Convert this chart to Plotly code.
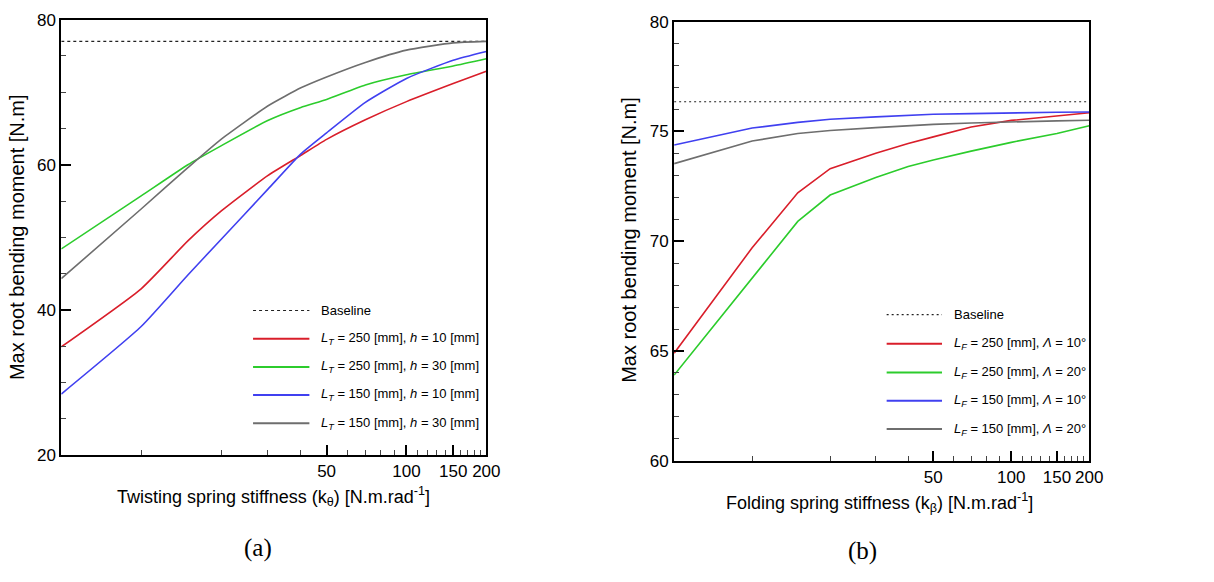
import plotly.graph_objects as go

W, H = 1214, 582

# ---------------- data ----------------
k_twist = [5, 10, 15, 20, 30, 40, 50, 70, 100, 150, 200]
a_lt250_h10 = [34.9, 42.9, 49.5, 53.6, 58.5, 61.3, 63.5, 66.2, 68.7, 71.2, 72.9]
a_lt250_h30 = [48.4, 55.7, 60.0, 62.6, 66.1, 67.9, 69.0, 71.0, 72.4, 73.6, 74.6]
a_lt150_h10 = [28.4, 37.7, 44.8, 49.7, 56.6, 61.5, 64.4, 68.6, 71.9, 74.4, 75.6]
a_lt150_h30 = [44.3, 53.9, 59.6, 63.5, 68.1, 70.6, 72.1, 74.1, 75.8, 76.8, 77.0]
a_baseline = 77.0

k_fold = [5, 10, 15, 20, 30, 40, 50, 70, 100, 150, 200]
b_lf250_l10 = [64.9, 69.7, 72.2, 73.3, 74.0, 74.45, 74.75, 75.2, 75.5, 75.72, 75.85]
b_lf250_l20 = [63.9, 68.3, 70.9, 72.1, 72.9, 73.4, 73.7, 74.1, 74.5, 74.9, 75.26]
b_lf150_l10 = [74.38, 75.15, 75.41, 75.55, 75.66, 75.73, 75.78, 75.81, 75.85, 75.87, 75.88]
b_lf150_l20 = [73.53, 74.56, 74.9, 75.04, 75.17, 75.26, 75.32, 75.38, 75.44, 75.48, 75.51]
b_baseline = 76.35

x_tickvals = [50, 100, 150, 200]
x_ticktext = ["50", "100", "150", "200"]
x_minor = [10, 20, 30, 40, 60, 70, 80, 90, 110, 120, 130, 140, 160, 170, 180, 190]

names_a = ["<i>L</i><sub><i>T</i></sub> = 250 [mm], <i>h</i> = 10 [mm]",
           "<i>L</i><sub><i>T</i></sub> = 250 [mm], <i>h</i> = 30 [mm]",
           "<i>L</i><sub><i>T</i></sub> = 150 [mm], <i>h</i> = 10 [mm]",
           "<i>L</i><sub><i>T</i></sub> = 150 [mm], <i>h</i> = 30 [mm]"]
names_b = ["<i>L</i><sub><i>F</i></sub> = 250 [mm], <i>Λ</i> = 10°",
           "<i>L</i><sub><i>F</i></sub> = 250 [mm], <i>Λ</i> = 20°",
           "<i>L</i><sub><i>F</i></sub> = 150 [mm], <i>Λ</i> = 10°",
           "<i>L</i><sub><i>F</i></sub> = 150 [mm], <i>Λ</i> = 20°"]

colors = ["#d91e2a", "#2ccc2c", "#4040f0", "#6e6e6e"]
SANS = "Liberation Sans, Arial, sans-serif"
SERIF = "Liberation Serif, Times New Roman, serif"

fig = go.Figure()

series_a = [a_lt250_h10, a_lt250_h30, a_lt150_h10, a_lt150_h30]
series_b = [b_lf250_l10, b_lf250_l20, b_lf150_l10, b_lf150_l20]

# baselines
fig.add_trace(go.Scatter(x=[k_twist[0], k_twist[-1]], y=[a_baseline, a_baseline], mode="lines",
                         line=dict(color="#222222", width=1.2, dash="3px,3px"),
                         xaxis="x", yaxis="y", showlegend=False, name="Baseline"))
fig.add_trace(go.Scatter(x=[k_fold[0], k_fold[-1]], y=[b_baseline, b_baseline], mode="lines",
                         line=dict(color="#222222", width=1.2, dash="2px,3px"),
                         xaxis="x2", yaxis="y2", showlegend=False, name="Baseline"))

for ys, c, n in zip(series_a, colors, names_a):
    fig.add_trace(go.Scatter(x=k_twist, y=ys, mode="lines", line=dict(color=c, width=1.6, shape="spline", smoothing=0.5),
                             xaxis="x", yaxis="y", showlegend=False, name=n))
for ys, c, n in zip(series_b, colors, names_b):
    fig.add_trace(go.Scatter(x=k_fold, y=ys, mode="lines", line=dict(color=c, width=1.6),
                             xaxis="x2", yaxis="y2", showlegend=False, name=n))

def px(x):
    return x / W

def py(y):
    return 1 - y / H

common_x = dict(type="log", range=[0.69897, 2.30103], tickmode="array", tickvals=x_tickvals, ticktext=x_ticktext,
                ticks="inside", ticklen=10, tickwidth=2, tickcolor="black", showgrid=False, zeroline=False,
                showline=True, linecolor="black", linewidth=2, mirror=True,
                tickfont=dict(family=SANS, size=17, color="black"),
                minor=dict(tickmode="array", tickvals=x_minor, ticks="inside", ticklen=5, tickwidth=1, tickcolor="#444", showgrid=False))
common_y = dict(ticks="inside", ticklen=10, tickwidth=2, tickcolor="black", showgrid=False, zeroline=False,
                showline=True, linecolor="black", linewidth=2, mirror=True,
                tickfont=dict(family=SANS, size=17, color="black"))

fig.update_layout(
    width=W, height=H, margin=dict(l=0, r=0, t=0, b=0),
    paper_bgcolor="white", plot_bgcolor="white", showlegend=False,
    xaxis=dict(domain=[px(62), px(492)], anchor="y", **common_x),
    yaxis=dict(domain=[py(461), py(11)], anchor="x", range=[20, 80], tickvals=[20, 40, 60, 80],
               minor=dict(dtick=5, ticks="inside", ticklen=5, tickwidth=1, tickcolor="#444", showgrid=False), **common_y),
    xaxis2=dict(domain=[px(682), px(1102)], anchor="y2", **common_x),
    yaxis2=dict(domain=[py(467), py(13)], anchor="x2", range=[60, 80], tickvals=[60, 65, 70, 75, 80],
                minor=dict(dtick=1, ticks="inside", ticklen=5, tickwidth=1, tickcolor="#444", showgrid=False), **common_y),
)

ann = []
shapes = []

def text(x, y, t, size, family=SANS, angle=0, xanchor="center"):
    ann.append(dict(x=px(x), y=py(y), xref="paper", yref="paper", text=t, textangle=angle,
                    xanchor=xanchor, yanchor="middle", showarrow=False,
                    font=dict(family=family, size=size, color="black")))

# axis titles
text(17, 236, "Max root bending moment [N.m]", 20, angle=-90)
text(637, 239, "Max root bending moment [N.m]", 20, angle=-90)
text(277, 504, "Twisting spring stiffness (k<sub>θ</sub>) [N.m.rad<sup>-1</sup>]", 18)
text(890, 510, "Folding spring stiffness (k<sub>β</sub>) [N.m.rad<sup>-1</sup>]", 18)
text(261, 557, "(a)", 25, family=SERIF)
text(873, 560, "(b)", 25, family=SERIF)

# legends (custom)
def legend(x0, x1, xt, rows, labels, cols, dash):
    for i, (r, lab) in enumerate(zip(rows, labels)):
        c = cols[i]
        shapes.append(dict(type="line", xref="paper", yref="paper", x0=px(x0), x1=px(x1), y0=py(r), y1=py(r),
                           line=dict(color=c, width=1.2 if i == 0 else 2, dash=dash if i == 0 else "solid")))
        text(xt, r, lab, 13, xanchor="left")

legend(256, 313, 323, [311.7, 341, 370, 399, 428.3], ["Baseline"] + names_a, ["#222222"] + colors, "3px,3px")
legend(897, 953, 963, [316, 346, 375.7, 405, 434.3], ["Baseline"] + names_b, ["#222222"] + colors, "2px,3px")

fig.update_layout(annotations=ann, shapes=shapes)
fig.write_html("out.html")
